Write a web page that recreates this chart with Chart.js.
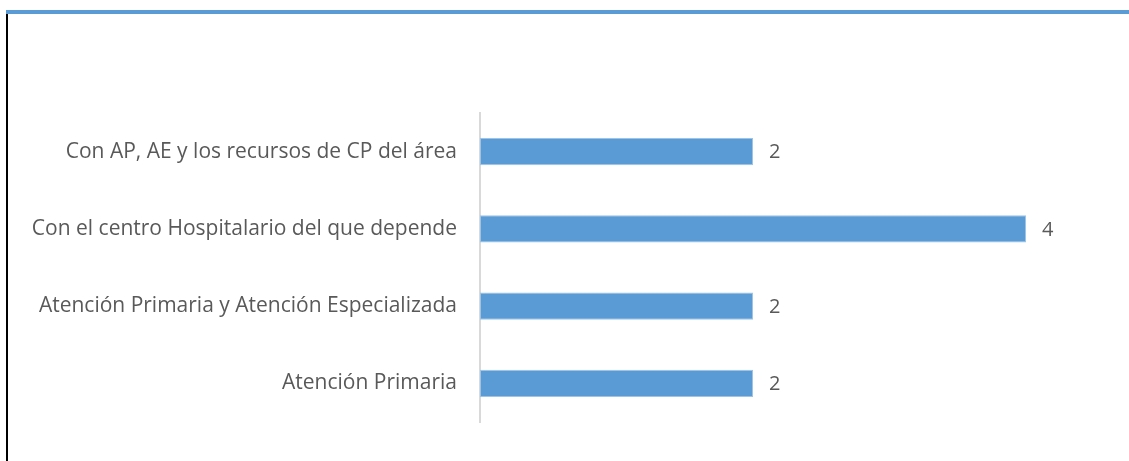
<!DOCTYPE html>
<html>
<head>
<meta charset="utf-8">
<script src="https://cdn.jsdelivr.net/npm/chart.js@4"></script>
<style>
  html, body { margin:0; padding:0; background:#fff; }
  #wrap { position:relative; width:1129px; height:461px; overflow:hidden; }
  #topLine { position:absolute; left:6px; top:10px; width:1123px; height:4px; background:#5b9bd5; }
  #leftLine { position:absolute; left:6px; top:14px; width:2px; height:447px; background:#000; }
  canvas { position:absolute; left:0; top:0; }
</style>
</head>
<body>
<div id="wrap">
  <canvas id="barChart" width="1129" height="461"></canvas>
  <div id="topLine"></div>
  <div id="leftLine"></div>
</div>
<script>
// categories top to bottom, as in the picture
const categories = [
  'Con AP, AE y los recursos de CP del área',
  'Con el centro Hospitalario del que depende',
  'Atención Primaria y Atención Especializada',
  'Atención Primaria'
];
const values = [2, 4, 2, 2];

const FONT = "'Open Sans', sans-serif";
const TEXT = '#595959';

// value labels at the end of each bar
const valueLabels = {
  id: 'valueLabels',
  afterDatasetsDraw(chart) {
    const ctx = chart.ctx;
    const meta = chart.getDatasetMeta(0);
    ctx.save();
    ctx.font = '20px ' + FONT;
    ctx.fillStyle = TEXT;
    ctx.textAlign = 'left';
    ctx.textBaseline = 'middle';
    meta.data.forEach((bar, i) => {
      ctx.fillText(String(values[i]), bar.x + 16, bar.y + 1);
    });
    ctx.restore();
  }
};

new Chart(document.getElementById('barChart'), {
  type: 'bar',
  data: {
    labels: categories,
    datasets: [{
      data: values,
      backgroundColor: '#5b9bd5',
      borderColor: '#9dc3e6',
      borderWidth: 1,
      borderSkipped: false,
      categoryPercentage: 1,
      barPercentage: 0.35
    }]
  },
  options: {
    indexAxis: 'y',
    responsive: false,
    animation: false,
    layout: { padding: { top: 113, bottom: 39, right: 103, left: 0 } },
    plugins: { legend: { display:false }, tooltip: { enabled:false } },
    scales: {
      x: { display:false, min:0, max:4 },
      y: {
        grid: { display:false },
        border: { display:true, color:'#d9d9d9', width:2 },
        ticks: { color: TEXT, font: { family: FONT, size: 21 }, padding: 15 },
        afterFit(scale) { scale.width = 480; }
      }
    }
  },
  plugins: [valueLabels]
});
</script>
</body>
</html>
